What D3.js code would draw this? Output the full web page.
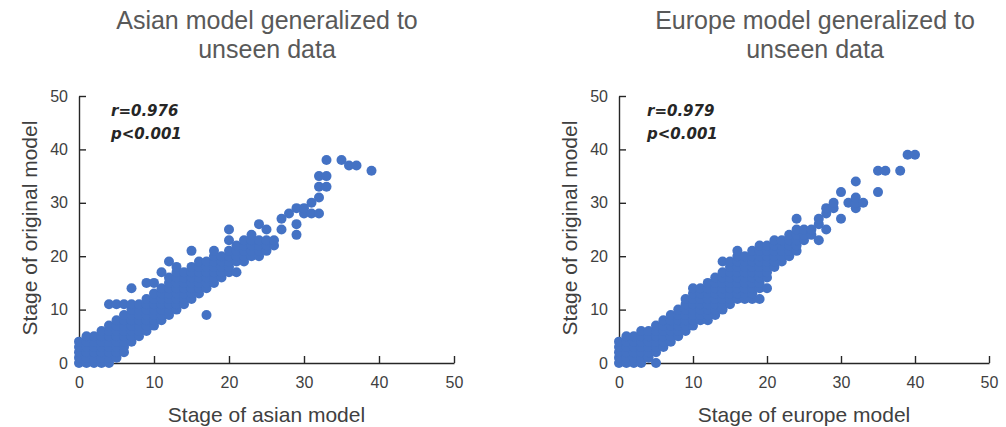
<!DOCTYPE html>
<html>
<head>
<meta charset="utf-8">
<script src="https://cdn.jsdelivr.net/npm/d3@7"></script>
<style>
  body { margin: 0; background: #ffffff; }
  svg { display: block; }
</style>
</head>
<body>
<svg id="chart" width="1006" height="427"></svg>
<script>
// ---------------- DATA ----------------
const axisTicks = [0, 10, 20, 30, 40, 50];

const asianTitle = ["Asian model generalized to", "unseen data"];
const europeTitle = ["Europe model generalized to", "unseen data"];
const asianXLabel = "Stage of asian model";
const europeXLabel = "Stage of europe model";
const yLabel = "Stage of original model";
const asianStats = ["r=0.976", "p<0.001"];
const europeStats = ["r=0.979", "p<0.001"];

// index = stage of asian model; values = stages of original model observed at that stage
const asianOriginal = [
  [0,1,2,3,4],
  [0,1,2,3,4,5],
  [0,1,2,3,4,5],
  [0,1,2,3,4,5,6],
  [0,1,2,3,4,5,6,7,11],
  [1,2,3,4,5,6,7,8,11],
  [2,3,4,5,6,7,8,9,11],
  [4,5,6,7,8,9,10,11,14],
  [5,6,7,8,9,10,11],
  [6,7,8,9,10,11,12,15],
  [7,8,9,10,11,12,13,15],
  [8,9,10,11,12,13,14,17],
  [9,10,11,12,13,14,15,16,19],
  [10,11,12,13,14,15,16,17,18],
  [11,12,13,14,15,16,17],
  [12,13,14,15,16,17,18,21],
  [13,14,15,16,17,18,19],
  [9,14,15,16,17,18,19],
  [15,16,17,18,19,20,21],
  [16,17,18,19,20],
  [17,18,19,20,21,23,25],
  [17,19,20,21,22],
  [19,20,21,22,23],
  [20,21,22,23,24],
  [20,21,22,23,26],
  [21,22,23,25],
  [22,23],
  [25,27],
  [28],
  [24,26,29],
  [28,29],
  [28,30],
  [28,31,33,35],
  [33,35,38],
  [],
  [38],
  [37],
  [37],
  [],
  [36]
];

// index = stage of europe model; values = stages of original model
const europeOriginal = [
  [0,1,2,3,4],
  [0,1,2,3,4,5],
  [0,1,2,3,4,5],
  [0,1,2,3,4,5,6],
  [1,2,3,4,5,6],
  [0,2,3,4,5,6,7],
  [3,4,5,6,7,8],
  [4,5,6,7,8,9],
  [5,6,7,8,9,10],
  [6,7,8,9,10,11,12],
  [7,8,9,10,11,12,13,14],
  [8,9,10,11,12,13,14],
  [8,9,10,11,12,13,14,15],
  [9,10,11,12,13,14,15,16],
  [10,11,12,13,14,15,16,17,19],
  [11,12,13,14,15,16,17,18,19],
  [12,13,14,15,16,17,18,19,20,21],
  [12,13,14,15,16,17,18,19,20],
  [12,13,14,15,16,17,18,19,20,21],
  [12,14,15,16,17,18,19,20,21,22],
  [14,16,17,18,19,20,21,22],
  [18,19,20,21,22,23],
  [19,20,21,22,23],
  [20,21,22,23,24],
  [21,22,23,24,25,27],
  [23,24,25],
  [24,25],
  [23,26,27],
  [25,28,29],
  [29,30],
  [27,32],
  [30],
  [29,30,31,34],
  [30],
  [],
  [32,36],
  [36],
  [],
  [36],
  [39],
  [39]
];

// ---------------- DRAW ----------------
const svg = d3.select("#chart");
const FONT = "'Liberation Sans', Arial, sans-serif";
const DOT = "#4472C4";
const AXIS = "#262626";

const panels = [
  { title: asianTitle, xLabel: asianXLabel, stats: asianStats, cols: asianOriginal,
    x0: 79, x1: 454, titleX: 267, statsX: 111, yLabelX: 37 },
  { title: europeTitle, xLabel: europeXLabel, stats: europeStats, cols: europeOriginal,
    x0: 619, x1: 989, titleX: 815, statsX: 647, yLabelX: 577 }
];

panels.forEach(p => {
  const x = d3.scaleLinear().domain([0, 50]).range([p.x0, p.x1]);
  const y = d3.scaleLinear().domain([0, 50]).range([363, 96]);
  const g = svg.append("g");

  // title
  g.append("text")
    .attr("x", p.titleX).attr("text-anchor", "middle")
    .attr("font-family", FONT).attr("font-size", 25).attr("fill", "#595959")
    .selectAll("tspan").data(p.title).join("tspan")
    .attr("x", p.titleX).attr("y", (d, i) => 29 + i * 29).text(d => d);

  // axes
  const xAxis = g.append("g").attr("transform", "translate(0,363)")
    .call(d3.axisBottom(x).tickValues(axisTicks).tickSize(-7).tickSizeOuter(0).tickPadding(14));
  const yAxis = g.append("g").attr("transform", `translate(${p.x0},0)`)
    .call(d3.axisLeft(y).tickValues(axisTicks).tickSize(-7).tickSizeOuter(0).tickPadding(11));
  [xAxis, yAxis].forEach(a => {
    a.select(".domain").attr("stroke", AXIS).attr("stroke-width", 1.4);
    a.selectAll(".tick line").attr("stroke", AXIS).attr("stroke-width", 1.4);
    a.selectAll(".tick text").attr("font-family", FONT).attr("font-size", 16).attr("fill", "#404040");
  });

  // axis labels
  g.append("text")
    .attr("x", (p.x0 + p.x1) / 2).attr("y", 422).attr("text-anchor", "middle")
    .attr("font-family", FONT).attr("font-size", 21).attr("fill", "#404040")
    .text(p.xLabel);
  g.append("text")
    .attr("transform", `translate(${p.yLabelX},228) rotate(-90)`)
    .attr("text-anchor", "middle")
    .attr("font-family", FONT).attr("font-size", 21).attr("fill", "#404040")
    .text(yLabel);

  // points
  const pts = [];
  p.cols.forEach((ys, xi) => ys.forEach(v => pts.push([xi, v])));
  g.append("g").selectAll("circle").data(pts).join("circle")
    .attr("cx", d => x(d[0])).attr("cy", d => y(d[1])).attr("r", 5)
    .attr("fill", DOT);

  // stats
  g.append("g").selectAll("text").data(p.stats).join("text")
    .attr("x", p.statsX).attr("y", (d, i) => 116 + i * 23)
    .attr("font-family", "'DejaVu Sans', sans-serif").attr("font-size", 15)
    .attr("font-weight", "bold").attr("font-style", "italic").attr("fill", "#262626")
    .text(d => d);
});
</script>
</body>
</html>
